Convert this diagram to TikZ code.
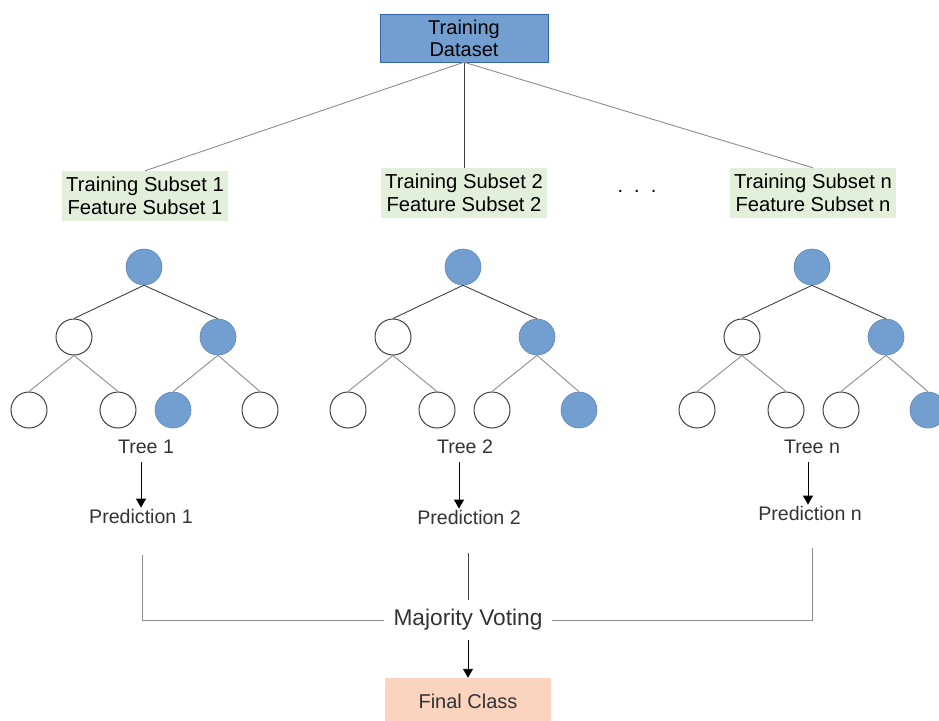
\documentclass[tikz,border=0pt]{standalone}
\usepackage{fontspec}
\setmainfont{Liberation Sans}
\usetikzlibrary{arrows.meta,positioning}
\definecolor{rfblue}{RGB}{114,159,207}
\definecolor{rfblueline}{RGB}{52,101,164}
\definecolor{rfgreen}{RGB}{226,239,218}
\definecolor{rfpeach}{RGB}{251,212,192}
\definecolor{rfgray}{RGB}{140,140,140}
\definecolor{rftext}{RGB}{51,51,51}

\begin{document}
\begin{tikzpicture}[x=1pt,y=-1pt,
  databox/.style={
    rectangle, draw=rfblueline, fill=rfblue,
    minimum width=168pt, minimum height=48pt, inner sep=0pt,
    align=center, font=\fontsize{20}{22}\selectfont
  },
  subsetbox/.style={
    rectangle, fill=rfgreen,
    minimum width=166pt, minimum height=50pt, inner sep=0pt,
    align=center, font=\fontsize{20.2}{23.5}\selectfont
  },
  leafw/.style={circle, draw=black!75, line width=1pt, fill=white, minimum size=36pt, inner sep=0pt},
  leafb/.style={circle, draw=rfblue!85!black, line width=0.6pt, fill=rfblue, minimum size=36pt, inner sep=0pt},
  lbl/.style={font=\fontsize{19.6}{22}\selectfont, text=rftext, inner sep=1pt},
  edgedark/.style={draw=black!75, line width=0.9pt},
  edgelight/.style={draw=rfgray, line width=0.9pt},
  conn/.style={-{Triangle[length=9pt,width=10pt]}, line width=0.9pt, draw=black}
]
\useasboundingbox (0,0) rectangle (939,720);

\node[databox] (ds) at (464,38) {Training\\Dataset};

\node[subsetbox] (s1) at (145,196) {Training Subset 1\\Feature Subset 1};
\node[subsetbox] (s2) at (464,193) {Training Subset 2\\Feature Subset 2};
\node[subsetbox] (sn) at (813,193) {Training Subset n\\Feature Subset n};
\node[font=\fontsize{20}{22}\selectfont] (dots) at (637,191) {.\ \ .\ \ .};

\draw[edgelight] (ds.south) -- (s1.north);
\draw[edgedark]  (ds.south) -- (s2.north);
\draw[edgelight] (ds.south) -- (sn.north);

\foreach \t/\cx/\sc/\sd in {1/144/leafb/leafw, 2/463/leafw/leafb, n/812/leafw/leafb}{
  \node[leafb] (t\t-r)  at (\cx,267) {};
  \node[leafw] (t\t-a)  at (\cx-70,337) {};
  \node[leafb] (t\t-b)  at (\cx+74,337) {};
  \node[leafw] (t\t-aa) at (\cx-115,410) {};
  \node[leafw] (t\t-ab) at (\cx-26,410) {};
  \node[\sc]   (t\t-ba) at (\cx+29,410) {};
  \node[\sd]   (t\t-bb) at (\cx+116,410) {};
  \draw[edgedark]  (t\t-r.south) -- (t\t-a.north);
  \draw[edgedark]  (t\t-r.south) -- (t\t-b.north);
  \draw[edgelight] (t\t-a.south) -- (t\t-aa.north);
  \draw[edgelight] (t\t-a.south) -- (t\t-ab.north);
  \draw[edgelight] (t\t-b.south) -- (t\t-ba.north);
  \draw[edgelight] (t\t-b.south) -- (t\t-bb.north);
}

\node[lbl] (tr1) at (146,447) {Tree 1};
\node[lbl] (tr2) at (465,447) {Tree 2};
\node[lbl] (trn) at (812,447) {Tree n};

\node[lbl] (pr1) at (141,516) {Prediction 1};
\node[lbl] (pr2) at (469,517) {Prediction 2};
\node[lbl] (prn) at (810,513) {Prediction n};

\draw[conn] (141,462) coordinate (a1) -- (a1 |- pr1.north);
\draw[conn] (459,462) coordinate (a2) -- (a2 |- pr2.north);
\draw[conn] (808,462) coordinate (an) -- (an |- prn.north);

\node[font=\fontsize{22.7}{24}\selectfont, text=rftext, inner xsep=9pt, inner ysep=9pt] (mv) at (468,620) {Majority Voting};

\coordinate (v1) at (142,555);
\coordinate (v2) at (468,553);
\coordinate (vn) at (812,548);
\draw[edgelight] (v1) |- (mv.west);
\draw[edgelight] (vn) |- (mv.east);
\draw[edgedark]  (v2) -- (mv.north);

\node[rectangle, fill=rfpeach, minimum width=166pt, minimum height=46pt, inner sep=0pt,
  font=\fontsize{20}{22}\selectfont, text=rftext] (fc) at (468,701) {Final Class};

\draw[conn] (mv.south) -- (fc.north);
\end{tikzpicture}
\end{document}
